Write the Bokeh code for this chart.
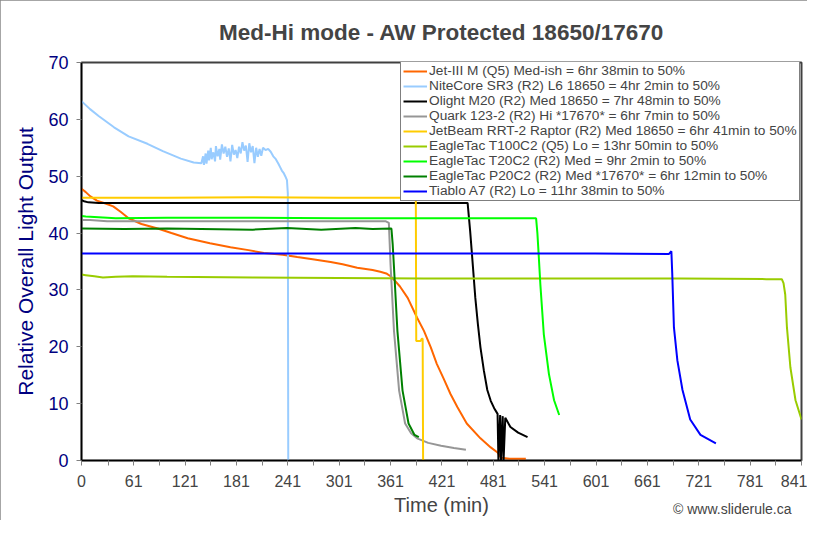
from bokeh.plotting import figure
from bokeh.models import FixedTicker, Legend, LegendItem, Range1d, Title
from bokeh.embed import file_html
from bokeh.resources import INLINE

# ---------------- data ----------------
x_ticks = [0, 61, 121, 181, 241, 301, 361, 421, 481, 541, 601, 661, 721, 781, 841]
x_minor = [31, 91, 151, 211, 271, 331, 391, 451, 511, 571, 631, 691, 751, 811]
y_ticks = [0, 10, 20, 30, 40, 50, 60, 70]

jet_t = [0, 5, 10, 18, 28, 37, 46, 55, 70, 89, 105, 124, 150, 174, 195, 213, 235, 252, 270, 291, 305, 322, 340, 349, 356, 361, 365, 372, 381, 392, 400, 408, 415, 423, 431, 439, 450, 466, 478, 486, 490, 500, 519]
jet_y = [47.8, 47.2, 46.5, 45.7, 45.2, 44.7, 43.7, 42.6, 41.6, 40.8, 40.0, 39.1, 38.2, 37.5, 37.0, 36.5, 36.2, 35.8, 35.4, 34.9, 34.5, 33.9, 33.5, 33.2, 32.9, 32.4, 31.8, 30.6, 28.6, 25.1, 22.8, 19.9, 17.0, 14.4, 11.7, 9.4, 6.5, 3.9, 2.3, 1.4, 0.5, 0.3, 0.3]

nite_t = [0, 10, 20, 38, 55, 77, 95, 116, 131, 140, 142, 143, 145, 146, 148, 149, 151, 152, 154, 156, 157, 159, 161, 162, 164, 166, 168, 170, 172, 174, 176, 178, 180, 182, 184, 186, 188, 190, 192, 194, 196, 198, 200, 202, 204, 206, 208, 210, 212, 215, 218, 221, 224, 227, 230, 232, 234, 236, 238, 240, 241, 241.5]
nite_y = [63.2, 61.8, 60.6, 58.6, 57.0, 55.7, 54.4, 53.1, 52.4, 52.3, 53.5, 52.0, 54.0, 52.2, 54.5, 52.8, 55.0, 53.0, 54.2, 52.6, 55.3, 53.5, 54.8, 52.9, 55.6, 54.0, 55.2, 53.4, 54.9, 52.6, 55.5, 53.8, 54.6, 53.2, 55.2, 54.0, 56.0, 54.5, 55.4, 52.5, 55.8, 54.2, 55.3, 52.3, 55.0, 53.4, 54.8, 53.6, 55.0, 54.6, 54.8, 54.3, 53.5, 53.0, 52.2, 51.6, 51.0, 50.6, 50.0, 49.3, 47.0, 0.0]

olight_t = [0, 3, 8, 20, 100, 200, 300, 400, 451, 454, 457, 460, 463, 466, 470, 474, 478, 482, 486, 487, 489, 490, 492, 493, 495, 501, 510, 521]
olight_y = [45.8, 45.6, 45.4, 45.3, 45.3, 45.3, 45.3, 45.3, 45.3, 40.3, 34.5, 28.6, 24.0, 19.9, 15.8, 12.4, 10.5, 9.2, 8.2, 0.0, 8.0, 0.0, 7.8, 0.0, 7.5, 5.9, 4.9, 4.1]

quark_t = [0, 10, 30, 100, 200, 300, 355, 359, 361, 365, 371, 378, 385, 392, 405, 420, 435, 449]
quark_y = [42.3, 42.3, 42.1, 42.1, 42.1, 42.1, 42.1, 41.8, 34.4, 22.8, 12.3, 6.5, 4.8, 3.9, 3.1, 2.6, 2.2, 1.9]

jetbeam_t = [0, 100, 200, 300, 384, 387, 389, 390.5, 391, 396, 397.5, 398.5, 399, 401]
jetbeam_y = [46.2, 46.2, 46.3, 46.2, 46.2, 46.5, 46.6, 46.6, 21.0, 21.0, 21.4, 21.4, 0.0, 0.0]

t100_t = [0, 5, 15, 25, 40, 60, 100, 200, 300, 400, 500, 600, 700, 800, 818, 820, 822, 824, 828, 834, 841]
t100_y = [32.7, 32.6, 32.4, 32.2, 32.3, 32.4, 32.3, 32.2, 32.1, 32.0, 32.0, 32.0, 32.0, 31.9, 31.9, 31.2, 29.2, 23.4, 16.4, 10.6, 7.2]

t20_t = [0, 5, 20, 40, 100, 200, 300, 400, 500, 531, 532.5, 534, 536, 540, 546, 552, 558]
t20_y = [43.0, 42.9, 42.8, 42.6, 42.7, 42.7, 42.6, 42.6, 42.6, 42.6, 40.0, 36.2, 30.9, 22.2, 15.2, 10.6, 8.0]

p20_t = [0, 50, 100, 200, 240, 280, 320, 340, 362, 363.5, 365, 369, 375, 382, 389, 394]
p20_y = [40.8, 40.7, 40.8, 40.6, 40.9, 40.6, 40.9, 40.7, 40.8, 38.0, 34.0, 22.8, 12.3, 6.5, 4.5, 4.1]

tiablo_t = [0, 100, 200, 300, 400, 500, 600, 686, 689, 690, 692, 696, 702, 711, 723, 741]
tiablo_y = [36.4, 36.4, 36.4, 36.4, 36.4, 36.4, 36.4, 36.3, 36.8, 33.0, 23.4, 17.6, 12.4, 7.2, 4.5, 3.0]

series = [
    ("Jet-III M (Q5) Med-ish = 6hr 38min to 50%", jet_t, jet_y, "#FF6600"),
    ("NiteCore SR3 (R2) L6 18650 = 4hr 2min to 50%", nite_t, nite_y, "#99CCFF"),
    ("Olight M20 (R2) Med 18650 = 7hr 48min to 50%", olight_t, olight_y, "#000000"),
    ("Quark 123-2 (R2) Hi *17670* = 6hr 7min to 50%", quark_t, quark_y, "#969696"),
    ("JetBeam RRT-2 Raptor (R2) Med 18650 = 6hr 41min to 50%", jetbeam_t, jetbeam_y, "#FFCC00"),
    ("EagleTac T100C2 (Q5) Lo = 13hr 50min to 50%", t100_t, t100_y, "#99CC00"),
    ("EagleTac T20C2 (R2) Med = 9hr 2min to 50%", t20_t, t20_y, "#00FF00"),
    ("EagleTac P20C2 (R2) Med *17670* = 6hr 12min to 50%", p20_t, p20_y, "#008000"),
    ("Tiablo A7 (R2) Lo = 11hr 38min to 50%", tiablo_t, tiablo_y, "#0000FF"),
]

FONT = "Liberation Sans"

p = figure(width=807, height=520, output_backend="svg", toolbar_location=None,
           x_range=Range1d(0, 841), y_range=Range1d(0, 70),
           min_border_left=81, min_border_right=6, min_border_top=62, min_border_bottom=60)

p.title.text = "Med-Hi mode - AW Protected 18650/17670"
p.title.text_font = FONT
p.title.text_font_size = "22.5px"
p.title.text_font_style = "bold"
p.title.align = "center"
p.title.vertical_align = "top"
p.title.standoff = 32

# copyright note, stacked below the x axis and pulled back up beside "Time (min)"
note = Title(text="\u00a9 www.sliderule.ca", align="right", vertical_align="top",
             text_font=FONT, text_font_size="14px", text_font_style="normal",
             standoff=-36, offset=10)
p.add_layout(note, "below")

p.xgrid.visible = False
p.ygrid.visible = False
p.background_fill_color = "white"
p.border_fill_color = "white"
p.outline_line_color = "#404040"
p.outline_line_width = 2

items = []
for name, t, y, c in series:
    r = p.line(t, y, line_color=c, line_width=2)
    items.append(LegendItem(label=name, renderers=[r]))

legend = Legend(items=items, location=(319, 259), margin=0, padding=2, spacing=0,
                glyph_width=24, glyph_height=12, label_height=12, label_standoff=2,
                label_text_font=FONT, label_text_font_size="13.7px",
                label_text_line_height=0.9,
                border_line_color="black", border_line_width=1,
                background_fill_color="white", background_fill_alpha=1.0)
p.add_layout(legend)

xa = p.xaxis[0]
xa.ticker = FixedTicker(ticks=x_ticks, minor_ticks=x_minor)
xa.axis_label = "Time (min)"
xa.axis_label_text_font = FONT
xa.axis_label_text_font_size = "20px"
xa.axis_label_text_font_style = "normal"
xa.axis_label_standoff = 4
xa.major_label_text_font = FONT
xa.major_label_text_font_size = "16px"
xa.major_label_standoff = 9
xa.major_tick_out = 5
xa.major_tick_in = 0
xa.minor_tick_out = 5
xa.minor_tick_in = 0
xa.major_tick_line_color = "#808080"
xa.minor_tick_line_color = "#808080"
xa.axis_line_color = "black"
xa.axis_line_width = 1.5

ya = p.yaxis[0]
ya.ticker = FixedTicker(ticks=y_ticks)
ya.axis_label = "Relative Overall Light Output"
ya.axis_label_text_font = FONT
ya.axis_label_text_font_size = "21px"
ya.axis_label_text_font_style = "normal"
ya.axis_label_text_color = "#000080"
ya.axis_label_standoff = 8
ya.major_label_text_font = FONT
ya.major_label_text_font_size = "18px"
ya.major_label_text_color = "#000080"
ya.major_label_standoff = 8
ya.major_tick_out = 5
ya.major_tick_in = 0
ya.minor_tick_line_color = None
ya.major_tick_line_color = "#808080"
ya.axis_line_color = "black"
ya.axis_line_width = 1.5

p.styles = {"outline": "2px solid #888888", "outline-offset": "-2px"}

open("out.html", "w").write(file_html(p, INLINE))
